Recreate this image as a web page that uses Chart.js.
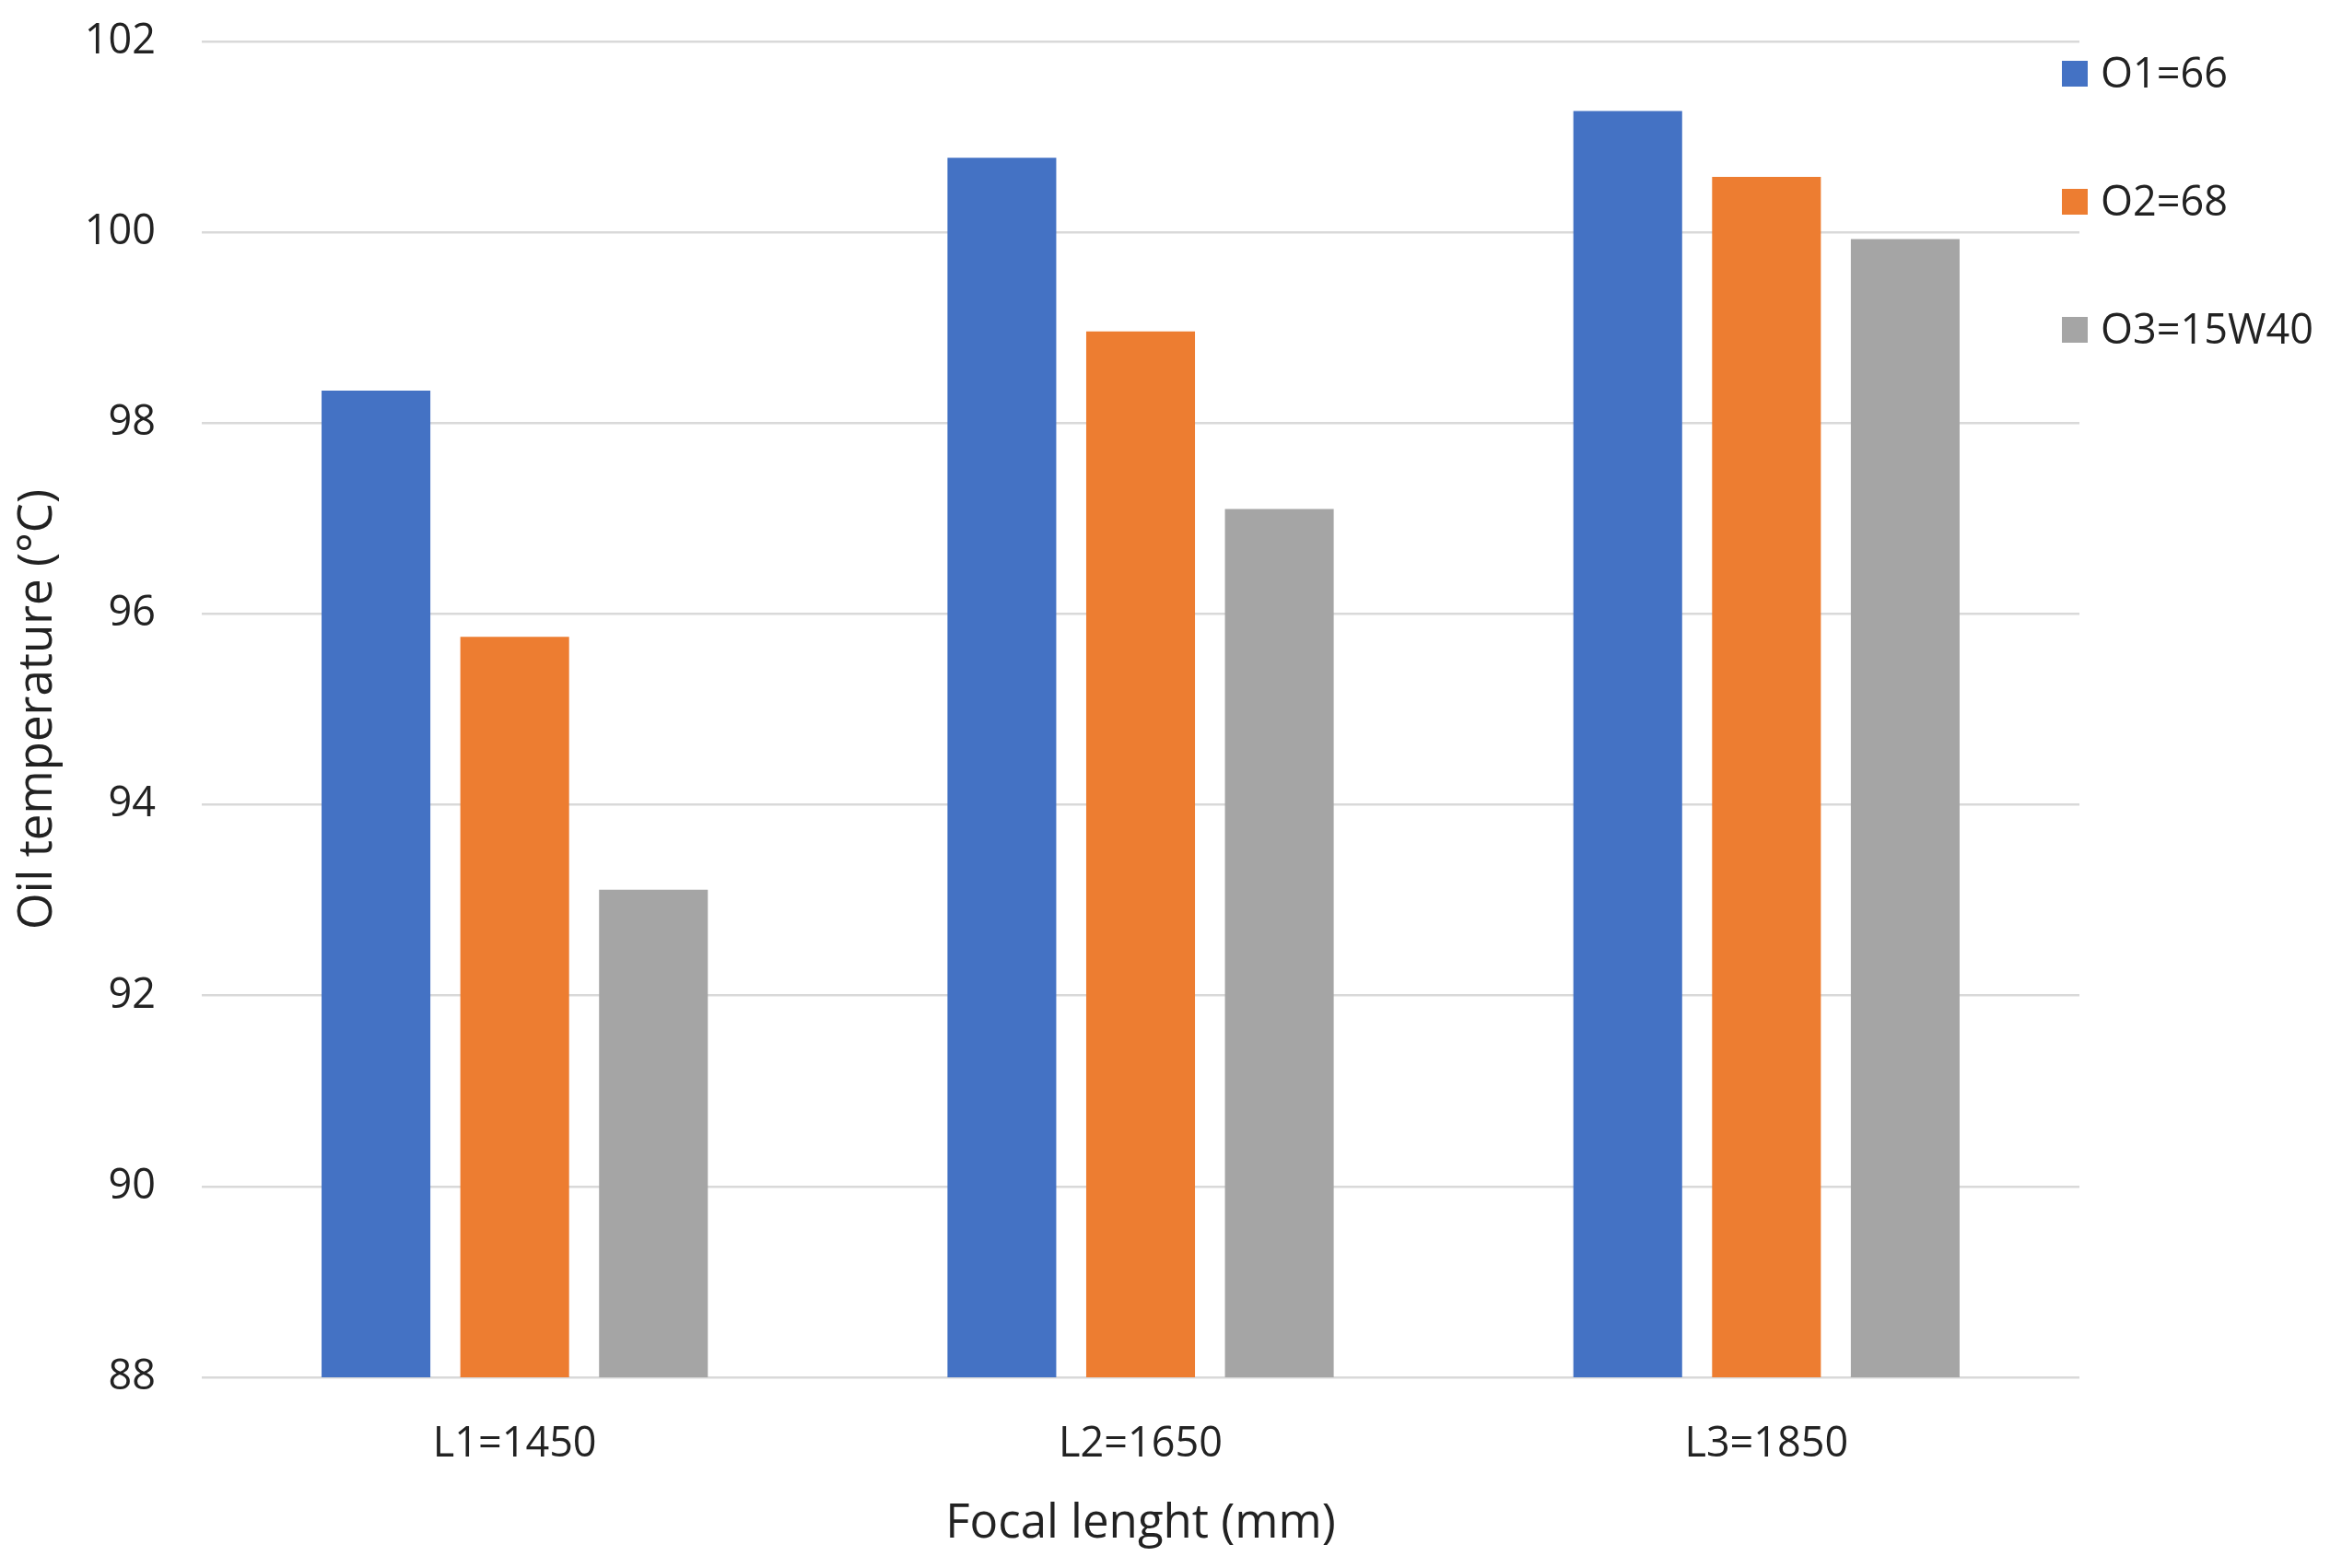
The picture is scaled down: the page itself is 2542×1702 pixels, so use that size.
<!DOCTYPE html>
<html>
<head>
<meta charset="utf-8">
<title>Oil temperature</title>
<script src="https://cdn.jsdelivr.net/npm/chart.js@4/dist/chart.umd.min.js"></script>
<style>
  body { margin: 0; background: #fff; }
  #wrap { width: 2542px; height: 1702px; }
</style>
</head>
<body>
<div id="wrap"><canvas id="canvas" width="2542" height="1702"></canvas></div>
<script>
const categories = ['L1=1450', 'L2=1650', 'L3=1850'];
const seriesNames = ['O1=66', 'O2=68', 'O3=15W40'];
const o1Values = [98.34, 100.78, 101.27];
const o2Values = [95.76, 98.96, 100.58];
const o3Values = [93.11, 97.10, 99.93];
const yTicks = [88, 90, 92, 94, 96, 98, 100, 102];

const colors = ['#4472C4', '#ED7D31', '#A5A5A5'];
const font = '"Open Sans", "Liberation Sans", sans-serif';
const textColor = '#222';

// legend sits at the top right, partly over the plot like the excel one
const sideLegend = {
  id: 'sideLegend',
  afterDraw: (chart) => {
    const ctx = chart.ctx;
    ctx.save();
    ctx.font = '45px ' + font;
    ctx.textBaseline = 'middle';
    ctx.textAlign = 'left';
    chart.data.datasets.forEach((ds, i) => {
      const y = 80 + i * 139;
      ctx.fillStyle = ds.backgroundColor;
      ctx.fillRect(2238, y - 14, 28, 28);
      ctx.fillStyle = textColor;
      ctx.fillText(ds.label, 2280, y + 2);
    });
    ctx.restore();
  }
};

const values = [o1Values, o2Values, o3Values];

let ctx = document.querySelector('#canvas');

let myGraph = new Chart(ctx, {
  type: 'bar',
  data: {
    labels: categories,
    datasets: seriesNames.map((name, i) => ({
      label: name,
      data: values[i],
      backgroundColor: colors[i],
      borderWidth: 0,
      categoryPercentage: 0.665,
      barPercentage: 0.784
    }))
  },
  options: {
    responsive: false,
    devicePixelRatio: 1,
    animation: false,
    layout: { padding: { top: 45, right: 285, left: 0, bottom: 0 } },
    plugins: {
      legend: { display: false },
      tooltip: { enabled: false }
    },
    scales: {
      x: {
        grid: { display: false },
        border: { display: false },
        ticks: {
          color: textColor,
          font: { family: font, size: 45 },
          padding: 38
        },
        title: {
          display: true,
          text: 'Focal lenght (mm)',
          color: textColor,
          font: { family: font, size: 51 },
          padding: { top: 0, bottom: 17 }
        },
        afterFit: (scale) => { scale.height = 207; }
      },
      y: {
        min: 88,
        max: 102,
        afterBuildTicks: (scale) => {
          scale.ticks = yTicks.map(v => ({ value: v }));
        },
        grid: { color: '#D9D9D9', lineWidth: 2.5, drawTicks: false },
        border: { display: false },
        ticks: {
          color: textColor,
          font: { family: font, size: 45 },
          padding: 50
        },
        title: {
          display: true,
          text: 'Oil temperature (°C)',
          color: textColor,
          font: { family: font, size: 51 },
          padding: { top: 11, bottom: 0 }
        },
        afterFit: (scale) => {
          scale.width = 219;
          scale.paddingTop = 0;
          scale.paddingBottom = 0;
        }
      }
    }
  },
  plugins: [sideLegend]
});
</script>
</body>
</html>
